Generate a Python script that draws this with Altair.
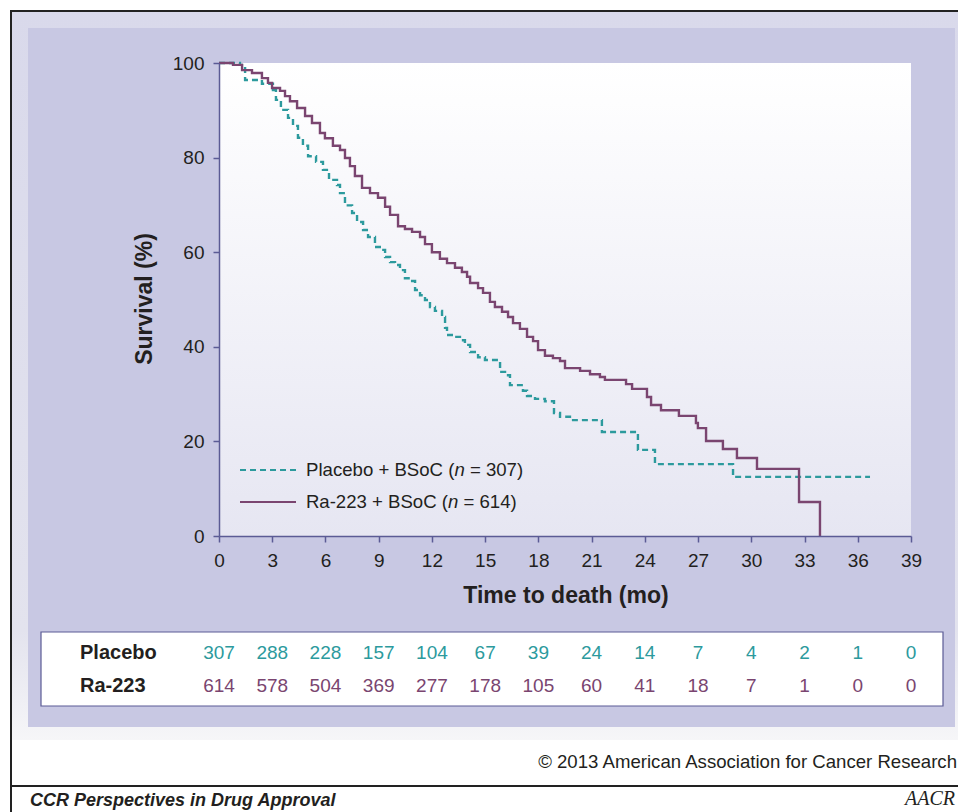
import altair as alt
import pandas as pd

# ---------------- data ----------------
placebo_t = [0, 1.18, 1.47, 2.42, 3.04, 3.21, 3.49, 3.89, 4.17, 4.45, 4.73, 5.02, 5.47, 5.86, 6.20,
             6.65, 6.82, 7.10, 7.50, 7.78, 8.12, 8.40, 8.79, 9.19, 9.36, 9.64, 9.92, 10.20, 10.48,
             10.76, 11.05, 11.33, 11.61, 11.89, 12.17, 12.57, 12.74, 12.85, 13.30, 13.58, 13.86,
             14.15, 14.60, 14.99, 15.84, 16.12, 16.40, 17.13, 17.36, 17.81, 18.37, 18.88, 19.22,
             19.78, 21.58, 23.61, 24.57, 28.97, 36.69]
placebo_s = [100, 99.6, 96.4, 95.6, 94.3, 92.2, 90.1, 88.4, 86.7, 84.2, 82.5, 80.3, 79.1, 77.4, 75.3,
             74.2, 72.5, 69.9, 68.3, 66.4, 64.7, 63.2, 61.1, 60.5, 59.0, 57.9, 57.3, 56.2, 54.5,
             53.9, 52.0, 50.9, 49.9, 48.4, 47.6, 46.3, 44.0, 42.5, 42.1, 41.4, 40.4,
             38.9, 37.8, 37.2, 34.7, 34.0, 31.9, 30.7, 29.6, 29.0, 28.5, 26.0, 25.2,
             24.5, 22.0, 18.2, 15.2, 12.5, 12.5]

ra_t = [0, 0.79, 1.30, 1.86, 2.42, 2.76, 2.99, 3.44, 3.72, 4.00, 4.40, 4.85, 5.24, 5.69, 5.97,
        6.42, 6.82, 7.10, 7.38, 7.66, 8.06, 8.51, 8.96, 9.36, 9.64, 10.09, 10.48, 10.88, 11.33,
        11.61, 12.00, 12.45, 12.85, 13.30, 13.69, 13.98, 14.15, 14.60, 14.88, 15.27, 15.55,
        15.95, 16.29, 16.57, 16.96, 17.36, 17.70, 17.98, 18.37, 18.82, 19.22, 19.50, 20.35,
        20.91, 21.47, 21.75, 22.94, 23.28, 24.12, 24.35, 24.91, 25.92, 26.88, 26.99, 27.45,
        28.40, 29.19, 30.32, 32.69, 33.87]
ra_s = [100, 99.6, 98.5, 97.9, 96.8, 95.8, 94.7, 94.1, 93.0, 91.9, 90.5, 88.8, 87.3, 85.2, 84.1,
        82.5, 81.6, 79.9, 78.2, 76.1, 73.6, 72.5, 71.5, 69.6, 67.9, 65.5, 64.9, 64.3, 63.2,
        61.7, 60.0, 58.6, 57.7, 56.7, 55.8, 54.8, 53.5, 52.4, 51.4, 49.5, 48.4,
        47.4, 46.3, 45.0, 43.8, 42.1, 41.2, 39.3, 38.1, 37.6, 37.0, 35.5, 34.9,
        34.2, 33.6, 33.0, 32.1, 31.1, 29.4, 27.7, 26.6, 25.4, 23.9, 22.8, 20.1,
        18.4, 16.5, 14.2, 7.2, 0]

tick_months = [0, 3, 6, 9, 12, 15, 18, 21, 24, 27, 30, 33, 36, 39]
survival_ticks = [0, 20, 40, 60, 80, 100]
placebo_at_risk = [307, 288, 228, 157, 104, 67, 39, 24, 14, 7, 4, 2, 1, 0]
ra_at_risk = [614, 578, 504, 369, 277, 178, 105, 60, 41, 18, 7, 1, 0, 0]
row_labels = ["Placebo", "Ra-223"]
legend_prefix = ["Placebo + BSoC (", "Ra-223 + BSoC ("]
legend_suffix = ["= 307)", "= 614)"]
x_title = "Time to death (mo)"
y_title = "Survival (%)"
copyright_text = "\u00a9 2013 American Association for Cancer Research"
footer_text = "CCR Perspectives in Drug Approval"
logo_text = "AACR"

# ---------------- style / layout ----------------
TEAL = "#2c9a9d"
PURPLE = "#7a4570"
AX = "#5b5b95"
INK = "#231f20"
PANEL = "#c8c8e3"
FONT = "Liberation Sans"
X0, Y0 = 219, 63          # page position of the plot area's top-left
W, H = 692, 473
TOTAL_W, TOTAL_H = 950, 804


def cx(p):
    return p - X0


def cy(p):
    return p - Y0


one = pd.DataFrame({"k": [0]})

x_scale = alt.Scale(domain=[0, 39], nice=False, zero=False)
y_scale = alt.Scale(domain=[0, 100], nice=False)
x_axis = alt.Axis(values=tick_months, title=None, grid=False, domainColor=AX, domainWidth=1.5,
                  tickColor=AX, tickWidth=1.5, tickSize=6, labelFont=FONT, labelFontSize=19,
                  labelColor=INK, labelPadding=9, labelOverlap=False, labelFlush=False, zindex=1)
y_axis = alt.Axis(values=survival_ticks, title=None, grid=False, domainColor=AX, domainWidth=1.5,
                  tickColor=AX, tickWidth=1.5, tickSize=6, labelFont=FONT, labelFontSize=19,
                  labelColor=INK, labelPadding=9, labelOverlap=False, labelFlush=False, zindex=1)


def box(x1, x2, y1, y2, **mk):
    return alt.Chart(one).mark_rect(**mk).encode(
        x=alt.value(cx(x1)), x2=alt.value(cx(x2)), y=alt.value(cy(y1)), y2=alt.value(cy(y2)))


def hline(x1, x2, y, **mk):
    return alt.Chart(one).mark_rule(**mk).encode(
        x=alt.value(cx(x1)), x2=alt.value(cx(x2)), y=alt.value(cy(y)))


def vline(x, y1, y2, **mk):
    return alt.Chart(one).mark_rule(**mk).encode(
        x=alt.value(cx(x)), y=alt.value(cy(y1)), y2=alt.value(cy(y2)))


def label(txt, x, y, **mk):
    opts = dict(font=FONT, color=INK, baseline="middle")
    opts.update(mk)
    return alt.Chart(one).mark_text(text=txt, **opts).encode(
        x=alt.value(cx(x)), y=alt.value(cy(y)))


layers = []

# soft glow / shadow behind the panel
glow = alt.Gradient(gradient="linear", x1=0, x2=0, y1=0, y2=1,
                    stops=[alt.GradientStop(color="#d9d9eb", offset=0),
                           alt.GradientStop(color="#e3e3ee", offset=0.85),
                           alt.GradientStop(color="#f6f6f8", offset=1)])
layers.append(box(12, 958, 12, 740, color=glow))
# lavender panel
layers.append(box(28, 955, 28, 727, color=PANEL))
# plot area (white fading to pale lavender)
plot_grad = alt.Gradient(gradient="linear", x1=0, x2=0, y1=0, y2=1,
                         stops=[alt.GradientStop(color="#ffffff", offset=0),
                                alt.GradientStop(color="#e6e6f2", offset=1)])
layers.append(alt.Chart(one).mark_rect(color=plot_grad).encode(
    x=alt.value(0), x2=alt.value("width"), y=alt.value(0), y2=alt.value("height")))

# survival curves
df_p = pd.DataFrame({"t": placebo_t, "s": placebo_s})
df_r = pd.DataFrame({"t": ra_t, "s": ra_s})
layers.append(alt.Chart(df_p).mark_line(interpolate="step-after", color=TEAL, strokeWidth=2.4,
                                        strokeDash=[6, 4]).encode(
    x=alt.X("t:Q", scale=x_scale, axis=x_axis), y=alt.Y("s:Q", scale=y_scale, axis=y_axis)))
layers.append(alt.Chart(df_r).mark_line(interpolate="step-after", color=PURPLE, strokeWidth=2.4).encode(
    x=alt.X("t:Q", scale=x_scale, axis=x_axis), y=alt.Y("s:Q", scale=y_scale, axis=y_axis)))

# axis titles
layers.append(label(y_title, 145, 299, angle=270, align="center", fontSize=23, fontWeight="bold"))
layers.append(label(x_title, 566, 596, align="center", fontSize=23, fontWeight="bold"))

# legend
LEG_FS = 18.6
layers.append(hline(240, 296, 470, color=TEAL, strokeWidth=2.2, strokeDash=[6, 4]))
layers.append(hline(240, 296, 502, color=PURPLE, strokeWidth=2.2))
for i, (yy, nx) in enumerate([(470, 454.4), (502, 448.0)]):
    layers.append(label(legend_prefix[i], nx, yy, align="right", fontSize=LEG_FS))
    layers.append(label("n", nx, yy, align="left", fontSize=LEG_FS, fontStyle="italic"))
    layers.append(label(legend_suffix[i], nx + 15.5, yy, align="left", fontSize=LEG_FS))

# number-at-risk table
layers.append(box(41, 943, 632, 706, color="#ffffff", stroke=AX, strokeWidth=1.2))
layers.append(label(row_labels[0], 80, 653, align="left", fontSize=20, fontWeight="bold"))
layers.append(label(row_labels[1], 80, 686, align="left", fontSize=20, fontWeight="bold"))
df_risk_p = pd.DataFrame({"t": tick_months, "n": placebo_at_risk})
df_risk_r = pd.DataFrame({"t": tick_months, "n": ra_at_risk})
layers.append(alt.Chart(df_risk_p).mark_text(font=FONT, fontSize=19, color=TEAL, baseline="middle").encode(
    x=alt.X("t:Q", scale=x_scale, axis=x_axis), y=alt.value(cy(653)), text="n:Q"))
layers.append(alt.Chart(df_risk_r).mark_text(font=FONT, fontSize=19, color=PURPLE, baseline="middle").encode(
    x=alt.X("t:Q", scale=x_scale, axis=x_axis), y=alt.value(cy(686)), text="n:Q"))

# copyright, frame and footer
layers.append(label(copyright_text, 957, 762, align="right", fontSize=18.6))
layers.append(hline(10, 958, 11, color="#222222", strokeWidth=2))
layers.append(vline(11, 10, 812, color="#222222", strokeWidth=2))
layers.append(hline(10, 958, 786, color="#222222", strokeWidth=2))
layers.append(label(footer_text, 30, 801, align="left", fontSize=18, fontWeight="bold",
                    fontStyle="italic"))
layers.append(label(logo_text, 930, 799, align="center", fontSize=20, font="Liberation Serif",
                    fontStyle="italic"))

chart = alt.layer(*layers).properties(
    width=W, height=H,
    padding={"left": X0 - 8, "top": Y0 - 8,
             "right": TOTAL_W - (X0 - 8) - W, "bottom": TOTAL_H - (Y0 - 8) - H},
    autosize=alt.AutoSizeParams(type="none"),
).configure_view(stroke=None).configure(background="#ffffff")

chart.save("out.html", embed_options={"renderer": "svg", "actions": False})
